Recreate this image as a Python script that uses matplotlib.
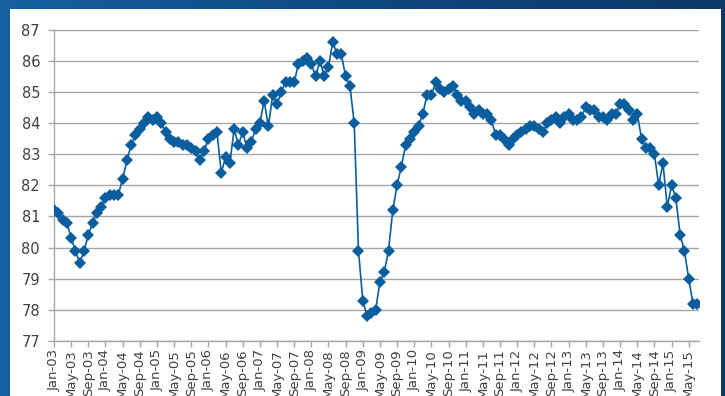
import matplotlib.pyplot as plt
import numpy as np
from matplotlib.patches import Rectangle
from matplotlib.colors import LinearSegmentedColormap

# monthly index values, Jan-03 .. Jul-15
values = [
    81.2, 81.1, 80.9, 80.8, 80.3, 79.9, 79.5, 79.9, 80.4, 80.8, 81.1, 81.3,  # 2003
    81.6, 81.7, 81.7, 81.7, 82.2, 82.8, 83.3, 83.6, 83.8, 84.0, 84.2, 84.1,  # 2004
    84.2, 84.0, 83.7, 83.5, 83.4, 83.4, 83.3, 83.3, 83.2, 83.1, 82.8, 83.1,  # 2005
    83.5, 83.6, 83.7, 82.4, 82.9, 82.7, 83.8, 83.3, 83.7, 83.2, 83.4, 83.8,  # 2006
    84.0, 84.7, 83.9, 84.9, 84.6, 85.0, 85.3, 85.3, 85.3, 85.9, 86.0, 86.1,  # 2007
    85.9, 85.5, 86.0, 85.5, 85.8, 86.6, 86.2, 86.2, 85.5, 85.2, 84.0, 79.9,  # 2008
    78.3, 77.8, 77.9, 78.0, 78.9, 79.2, 79.9, 81.2, 82.0, 82.6, 83.3, 83.5,  # 2009
    83.7, 83.9, 84.3, 84.9, 84.9, 85.3, 85.1, 85.0, 85.1, 85.2, 84.9, 84.7,  # 2010
    84.7, 84.5, 84.3, 84.4, 84.3, 84.3, 84.1, 83.6, 83.6, 83.5, 83.3, 83.5,  # 2011
    83.6, 83.7, 83.8, 83.9, 83.9, 83.8, 83.7, 84.0, 84.1, 84.2, 84.0, 84.2,  # 2012
    84.3, 84.1, 84.1, 84.2, 84.5, 84.4, 84.4, 84.2, 84.2, 84.1, 84.3, 84.3,  # 2013
    84.6, 84.6, 84.4, 84.1, 84.3, 83.5, 83.2, 83.2, 83.0, 82.0, 82.7, 81.3,  # 2014
    82.0, 81.6, 80.4, 79.9, 79.0, 78.2, 78.2,                                # 2015
]
months = ["Jan", "Feb", "Mar", "Apr", "May", "Jun",
          "Jul", "Aug", "Sep", "Oct", "Nov", "Dec"]
start_year = 2003

x = np.arange(len(values))
labels = [f"{months[i % 12]}-{(start_year + i // 12) % 100:02d}" for i in x]

fig = plt.figure(figsize=(7.25, 3.96), dpi=100)

# blue frame behind the white panel
bg = fig.add_axes([0, 0, 1, 1], zorder=-2)
grad = np.linspace(0, 1, 256).reshape(1, -1)
cmap = LinearSegmentedColormap.from_list("frame", ["#15609f", "#0f4780", "#0b3866"])
bg.imshow(grad, aspect="auto", cmap=cmap, extent=[0, 1, 0, 1])
bg.add_patch(Rectangle((10 / 725, 0), (721 - 10) / 725, 1 - 9 / 396,
                       facecolor="white", edgecolor="none"))
bg.set_xlim(0, 1)
bg.set_ylim(0, 1)
bg.axis("off")

ax = fig.add_axes([54 / 725, 1 - 341 / 396, (699 - 54) / 725, (341 - 29.5) / 396])
ax.set_facecolor("none")
ax.plot(x, values, color="#0a5e9e", linewidth=1.2, marker="D",
        markersize=6.2, markeredgewidth=0, zorder=3)

ax.set_xlim(0, len(values) - 0.6)
ax.set_ylim(77, 87)
ax.set_yticks(np.arange(77, 88, 1))
ax.set_xticks(x[::4])
ax.set_xticklabels(labels[::4], rotation=90)

ax.grid(axis="y", color="#a6a6a6", linewidth=1)
ax.set_axisbelow(True)
for s in ["top", "right"]:
    ax.spines[s].set_visible(False)
for s in ["left", "bottom"]:
    ax.spines[s].set_color("#a6a6a6")
    ax.spines[s].set_linewidth(1)
ax.tick_params(axis="x", colors="#a6a6a6", labelcolor="#404040",
               length=4, width=1, labelsize=9.5, pad=2)
ax.tick_params(axis="y", colors="#a6a6a6", labelcolor="#404040",
               length=4, width=1, labelsize=10.5, pad=6)

fig.savefig("out.png", dpi=100)
plt.close()
